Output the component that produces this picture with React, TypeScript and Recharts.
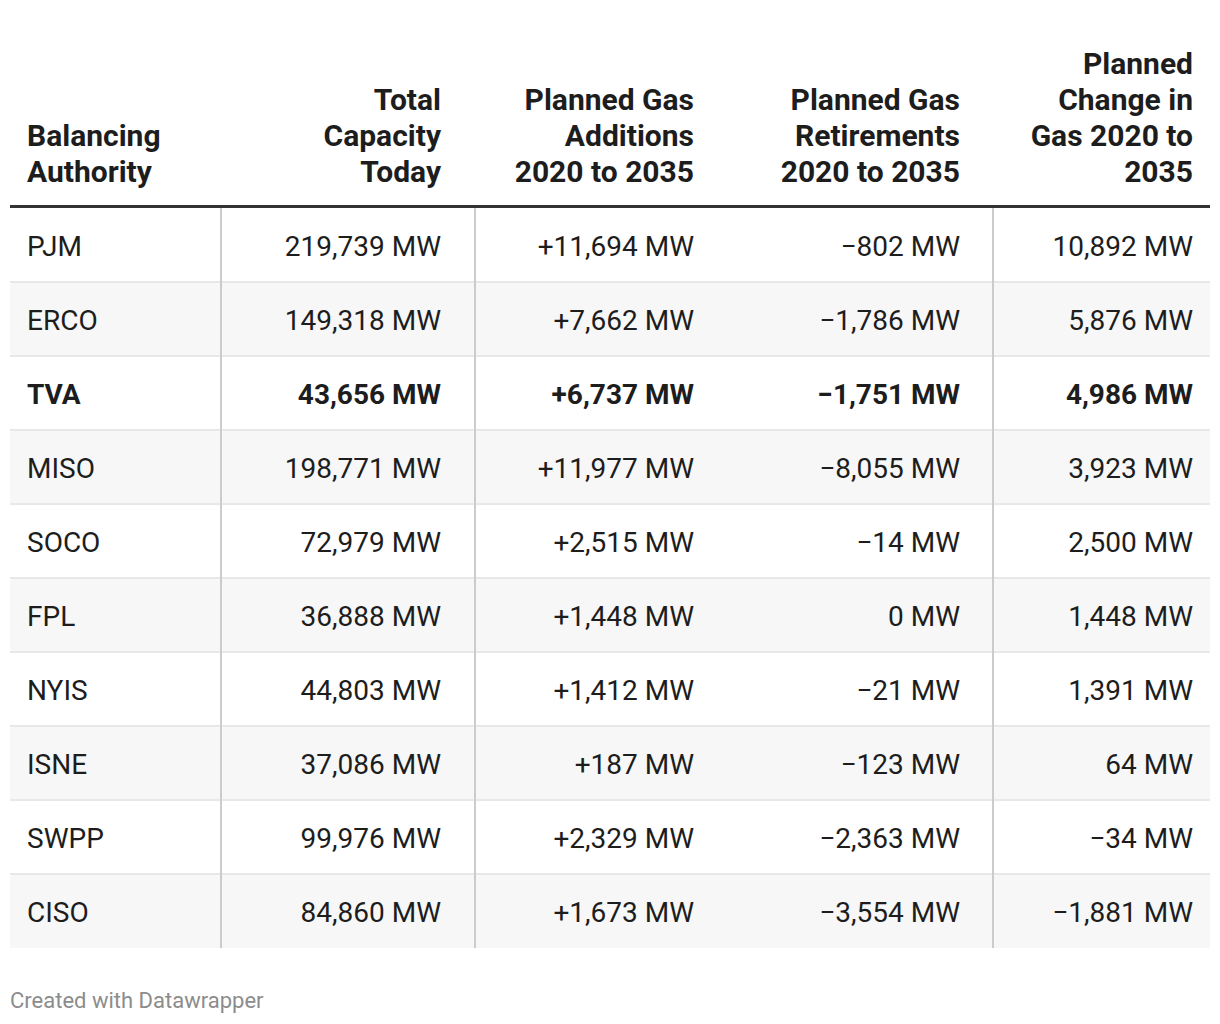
import React from 'react';
import { BarChart, Bar, XAxis, YAxis, Cell, LabelList } from 'recharts';

const authorities = ['PJM', 'ERCO', 'TVA', 'MISO', 'SOCO', 'FPL', 'NYIS', 'ISNE', 'SWPP', 'CISO'];
const totalCapacity = [219739, 149318, 43656, 198771, 72979, 36888, 44803, 37086, 99976, 84860];
const gasAdditions = [11694, 7662, 6737, 11977, 2515, 1448, 1412, 187, 2329, 1673];
const gasRetirements = [-802, -1786, -1751, -8055, -14, 0, -21, -123, -2363, -3554];
const gasChange = [10892, 5876, 4986, 3923, 2500, 1448, 1391, 64, -34, -1881];
const highlighted = 'TVA';

const headers = [
  ['Balancing', 'Authority'],
  ['Total', 'Capacity', 'Today'],
  ['Planned Gas', 'Additions', '2020 to 2035'],
  ['Planned Gas', 'Retirements', '2020 to 2035'],
  ['Planned', 'Change in', 'Gas 2020 to', '2035'],
];

const WIDTH = 1204;
const HEIGHT = 1016;
const FONT = 'Roboto, "Noto Sans", sans-serif';
const TEXT = '#1d1d1d';

// chart-space layout
const TABLE_TOP = 200;
const TABLE_BOTTOM = 940;
const FIRST_COL_LEFT = 19;
const COL_RIGHTS = [433, 686, 952, 1185];
const DIVIDERS = [213, 467, 985];
const HEADER_BASELINE = 182;

const fmt = (n: number) => Math.abs(n).toLocaleString('en-US');
const plain = (n: number) => (n < 0 ? '\u2212' : '') + fmt(n) + ' MW';
const plus = (n: number) => (n > 0 ? '+' : n < 0 ? '\u2212' : '') + fmt(n) + ' MW';

const rows = authorities.map((name, i) => ({
  name,
  stripe: 1,
  total: plain(totalCapacity[i]),
  additions: plus(gasAdditions[i]),
  retirements: plain(gasRetirements[i]),
  change: plain(gasChange[i]),
}));

const RowShape = (props: any) => {
  const { x, y, width, height, fill, index } = props;
  return (
    <g>
      <rect x={x} y={y} width={width} height={height} fill={fill} />
      {index > 0 && <rect x={x} y={y - 1} width={width} height={2} fill="#e8e8e8" />}
      {DIVIDERS.map((dx) => (
        <rect key={dx} x={dx - 1} y={y - 1} width={2} height={height + 1} fill="#cccccc" />
      ))}
    </g>
  );
};

const cellText = (right: number | null) => (props: any) => {
  const vb = props.viewBox || props;
  const idx = props.index;
  const bold = authorities[idx] === highlighted;
  const cy = vb.y + vb.height / 2 + 11;
  return (
    <text
      x={right === null ? FIRST_COL_LEFT : right}
      y={cy}
      textAnchor={right === null ? 'start' : 'end'}
      fontFamily={FONT}
      fontSize={28}
      fontWeight={bold ? 700 : 400}
      fill={TEXT}
    >
      {props.value}
    </text>
  );
};

export default function App() {
  return (
    <div style={{ position: 'relative', width: WIDTH, height: HEIGHT, fontFamily: FONT, background: '#fff' }}>
      {headers.map((lines, i) => {
        const top = HEADER_BASELINE - 0.2 - 36 * lines.length;
        const style: React.CSSProperties = {
          position: 'absolute',
          top,
          fontSize: 30,
          lineHeight: '36px',
          fontWeight: 700,
          color: TEXT,
          whiteSpace: 'nowrap',
        };
        if (i === 0) {
          style.left = FIRST_COL_LEFT;
        } else {
          style.right = WIDTH - COL_RIGHTS[i - 1];
          style.textAlign = 'right';
        }
        return (
          <div key={i} style={style}>
            {lines.map((l, j) => (
              <div key={j}>{l}</div>
            ))}
          </div>
        );
      })}

      <div style={{ position: 'absolute', top: 0, left: 0 }}>
        <BarChart
          width={WIDTH}
          height={HEIGHT}
          data={rows}
          layout="vertical"
          margin={{ top: TABLE_TOP, right: 2, left: 2, bottom: HEIGHT - TABLE_BOTTOM }}
          barCategoryGap={0}
          barGap={0}
        >
          <XAxis type="number" domain={[0, 1]} hide />
          <YAxis type="category" dataKey="name" hide />
          <Bar dataKey="stripe" shape={<RowShape />} isAnimationActive={false}>
            {rows.map((r, i) => (
              <Cell key={r.name} fill={i % 2 === 1 ? '#f7f7f7' : '#ffffff'} />
            ))}
            <LabelList dataKey="name" content={cellText(null)} />
            <LabelList dataKey="total" content={cellText(COL_RIGHTS[0])} />
            <LabelList dataKey="additions" content={cellText(COL_RIGHTS[1])} />
            <LabelList dataKey="retirements" content={cellText(COL_RIGHTS[2])} />
            <LabelList dataKey="change" content={cellText(COL_RIGHTS[3])} />
          </Bar>
        </BarChart>
      </div>

      <div
        style={{
          position: 'absolute',
          left: 2,
          top: TABLE_TOP - 3,
          width: 1200,
          height: 3,
          background: '#333333',
        }}
      />

      <div
        style={{
          position: 'absolute',
          left: 2,
          top: 981.5,
          fontSize: 22,
          lineHeight: '22px',
          color: '#8c8c8c',
        }}
      >
        Created with Datawrapper
      </div>
    </div>
  );
}
